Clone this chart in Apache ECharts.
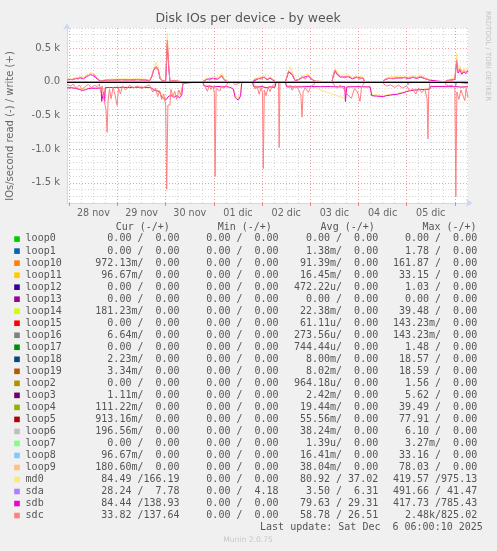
<!DOCTYPE html>
<html><head><meta charset="utf-8">
<script src="https://cdn.jsdelivr.net/npm/echarts@6/dist/echarts.min.js"></script>
<style>html,body{margin:0;padding:0;background:#f0f0f0;}#c{width:497px;height:551px;}</style>
</head><body><div id="c"></div>
<script>
// ---- axis labels ----
const dayLabels = ['28 nov','29 nov','30 nov','01 dic','02 dic','03 dic','04 dic','05 dic'];
const yTicks = [-1500, -1000, -500, 0, 500];
const yTickLabels = ['-1.5 k', '-1.0 k', '-0.5 k', '0.0', '0.5 k'];

// ---- series data: [hours since 28 nov 00:00, IO/s] (read negative, write positive) ----
const md0Write = [[-1.15,45],[1.5,40],[3,62],[5.5,78],[7,60],[8.5,100],[10.5,140],[12,120],[13,90],[14.4,45],[15.5,20],[18.6,36],[22,40],[26,44],[30,42],[34,46],[38,40],[40,25],[41,95],[43.2,290],[44.2,230],[45.2,70],[46.5,15],[48,30],[48.8,722],[49.4,350],[50.1,15],[52,25],[56,6],[57,0],[66.2,0],[67,28],[68.5,55],[71.5,72],[74,58],[75.9,130],[77,52],[78.4,14],[79.5,0],[91.2,0],[92,40],[94,64],[97,95],[98.5,44],[100,78],[102.4,8],[103,0],[107.6,0],[108.2,75],[109.9,228],[111,150],[112.4,30],[114,40],[116,88],[119,118],[120.5,60],[122.4,12],[123,0],[130.8,0],[131.5,125],[132.3,200],[133.5,145],[135,96],[139,105],[141,64],[143,92],[146.4,72],[147,6],[148,0],[156,0],[157,42],[159,72],[163,80],[167,90],[169,70],[171,95],[173,74],[175,102],[177,70],[179.2,38],[179.8,0],[187,0],[188,28],[192,52],[192.9,425],[193.6,190],[194.5,240],[195.5,160],[196.5,210],[197.5,172],[198.55,220]];
const md0Read = [[-1.15,-80],[5,-100],[10,-90],[15.9,-85],[16.5,-250],[17.9,-85],[30,-80],[41,-90],[45,-140],[48.3,-240],[50.5,-190],[55,-210],[56.6,-20],[57,0],[66.4,0],[67,-50],[72,-70],[78.4,-65],[79,0],[81.7,-100],[83.5,-240],[85.3,-190],[85.8,0],[91.2,0],[92,-65],[98,-80],[102.4,-70],[103,0],[107.6,0],[108.2,-65],[120,-65],[137.5,-250],[138.2,-70],[149.8,-70],[150.6,-190],[156.4,-200],[163,-175],[169.7,-125],[179.4,-100],[179.8,-65],[198.55,-68]];
const sdaWrite = [[-1.15,6],[20,5],[40,7],[60,5],[80,6],[100,6],[120,5],[140,7],[160,6],[180,5],[198.55,8]];
const sdaRead = [[-1.15,-2],[60,-1],[100,-3],[168,-3],[168.7,-45],[169.4,-3],[192,-2],[192.4,-60],[192.9,-3],[198.55,-28]];
const sdbWrite = [[-1.15,30],[1.5,36],[3,45],[5.5,58],[7,44],[8.5,75],[10.5,108],[12,92],[13,66],[14.4,30],[15.5,12],[18.6,24],[22,26],[26,30],[30,28],[34,30],[38,26],[40,15],[41,70],[42,170],[43.2,215],[44.2,180],[45.2,50],[46.5,10],[48,18],[48.8,560],[49.4,250],[50.1,8],[52,16],[56,3],[57,0],[66.2,0],[67,16],[68.5,36],[71.5,50],[74,40],[75.9,88],[77,34],[78.4,8],[79.5,0],[91.2,0],[92,28],[94,45],[97,66],[98.5,30],[100,54],[102.4,5],[103,0],[107.6,0],[108.2,52],[109.2,150],[110,165],[111,105],[112.4,18],[114,28],[116,64],[119,84],[120.5,42],[122.4,8],[123,0],[130.8,0],[131.5,90],[132.3,160],[133.5,105],[135,70],[139,75],[141,44],[143,66],[146.4,50],[147,4],[148,0],[156,0],[157,28],[159,50],[163,55],[167,62],[169,48],[171,66],[173,52],[175,70],[177,48],[179.2,26],[179.8,0],[187,0],[188,18],[192,36],[192.9,290],[193.6,130],[194.5,175],[195.5,112],[196.5,150],[197.5,122],[198.55,160]];
const sdbRead = [[-1.15,-90],[1,-88],[3,-96],[5,-112],[6.5,-128],[8,-118],[9.5,-100],[11,-94],[13,-96],[15.9,-92],[16.1,-290],[16.9,-292],[17.1,-150],[17.6,-295],[17.9,-86],[20,-84],[25,-82],[30,-84],[35,-80],[40,-84],[41,-95],[42,-118],[43.5,-130],[45,-150],[46,-225],[47.3,-250],[48.3,-262],[48.8,-290],[49.3,-220],[50.5,-200],[52,-230],[53.5,-210],[55,-235],[56,-200],[56.6,-20],[57,0],[66.4,0],[67,-55],[68.5,-70],[70,-62],[72,-78],[74,-68],[76,-75],[78.4,-72],[80,-80],[81.7,-110],[82.6,-230],[83.5,-262],[84.5,-258],[85.3,-205],[85.8,-30],[86.2,0],[91.2,0],[91.8,-72],[94,-78],[96,-70],[98,-88],[100,-75],[102.4,-82],[103,0],[107.6,0],[108.2,-72],[112,-76],[116,-74],[120,-70],[125,-72],[130,-70],[134,-75],[137.2,-72],[137.5,-292],[138,-292],[138.2,-76],[142,-72],[146,-74],[149.8,-76],[150.6,-205],[153,-212],[156.4,-218],[158,-205],[160,-196],[163,-186],[166,-165],[168,-145],[169.7,-132],[172,-122],[175,-116],[178,-112],[179.4,-110],[179.8,-72],[184,-70],[188,-72],[192,-70],[195,-78],[198.55,-74]];
const sdcWrite = [[-1.15,35],[0,42],[1.5,30],[3,52],[4.5,40],[5.5,65],[7,50],[8.5,85],[9.5,90],[10.5,118],[11.5,95],[12.5,110],[13.3,70],[14.4,38],[15.5,15],[17,22],[18.6,28],[20,14],[22,30],[24,18],[26,34],[28,24],[30,32],[32,20],[34,36],[36,24],[38,30],[40,18],[41,80],[42,185],[43.2,232],[44.2,195],[45.2,55],[46.5,12],[48,22],[48.8,620],[49.4,290],[50.1,10],[52,20],[54,8],[56,4],[57,0],[66.2,0],[67,20],[68.5,42],[70,25],[71.5,58],[72.5,28],[74,46],[75.9,98],[77,40],[78.4,10],[79.5,0],[91.2,0],[92,32],[94,52],[95.5,38],[97,75],[98.5,35],[100,62],[101.5,30],[102.4,6],[103,0],[107.6,0],[108.2,60],[109.2,160],[110,178],[111,118],[112.4,22],[114,32],[116,72],[117.5,40],[119,96],[120.5,48],[122.4,10],[123,0],[130.8,0],[131.5,100],[132.3,178],[133.5,118],[135,78],[137,58],[139,86],[141,50],[143,76],[144.5,40],[146.4,58],[147,5],[148,0],[156,0],[157,32],[159,56],[161,44],[163,62],[165,48],[167,70],[169,56],[171,74],[173,58],[175,80],[177,54],[179.2,30],[179.8,0],[187,0],[188,22],[190,15],[192,42],[192.9,328],[193.6,150],[194.5,198],[195.5,128],[196.5,172],[197.5,140],[198.55,182]];
const sdcRead = [[-1.15,-40],[0.5,-62],[2,-35],[3.5,-95],[5,-48],[6.5,-112],[8,-66],[9.5,-40],[11,-85],[12.5,-55],[14,-70],[15,-30],[15.6,-160],[16.4,-60],[17.3,-260],[18.3,-420],[18.8,-753],[19.3,-280],[20,-110],[20.8,-250],[21.8,-80],[22.8,-200],[23.8,-352],[24.5,-90],[25.5,-180],[26.5,-60],[28,-120],[30,-52],[32,-92],[34,-58],[36,-104],[38,-66],[40,-45],[41.5,-150],[43,-92],[44,-220],[45,-130],[46,-262],[47,-180],[48,-350],[48.5,-1594],[49.1,-345],[50.1,-345],[50.6,-110],[51.5,-220],[52.5,-140],[53.5,-260],[54.5,-120],[55.5,-200],[56.5,-40],[57,0],[66.4,0],[67,-25],[67.8,-85],[68.8,-140],[69.6,-55],[70.5,-115],[71.5,-60],[72.2,-160],[72.6,-1407],[73.1,-100],[74,-72],[75,-135],[76,-58],[77,-95],[78.4,-40],[79,0],[81.5,0],[82.2,-40],[84,-30],[85.8,0],[91.2,0],[91.8,-30],[92.5,-105],[93.5,-60],[94.5,-185],[95.5,-90],[96.2,-155],[96.6,-1288],[97.1,-120],[98,-205],[99,-80],[100,-145],[101,-62],[102.4,-30],[103,0],[104.2,0],[104.5,-976],[104.9,0],[107.6,0],[108.2,-40],[109,-85],[110,-50],[111,-125],[112.4,-58],[114,-105],[115.3,-200],[115.9,-524],[116.4,-150],[117.5,-88],[119,-155],[120.5,-60],[122,-38],[122.4,0],[131,0],[131.5,-30],[133,-92],[135,-50],[137,-125],[138.8,-200],[140.5,-245],[142,-100],[143.5,-150],[144.8,-290],[145.5,-80],[146.4,-40],[147,0],[156.2,0],[156.6,-30],[158,-62],[160,-45],[162,-82],[164,-50],[166,-92],[168,-60],[169.7,-140],[171,-100],[172.5,-182],[174,-90],[175.5,-160],[177,-110],[178.2,-250],[178.6,-847],[179,-150],[179.6,0],[187,0],[187.5,-40],[189,-62],[190.5,-48],[192,-92],[192.5,-1704],[193,-150],[194,-262],[195,-120],[196,-205],[197,-280],[197.6,-100],[198.55,-230]];

// ---- legend table ----
const devices = ['loop0','loop1','loop10','loop11','loop12','loop13','loop14','loop15','loop16','loop17','loop18','loop19','loop2','loop3','loop4','loop5','loop6','loop7','loop8','loop9','md0','sda','sdb','sdc'];
const palette = ['#00CC00','#0066B3','#FF8000','#FFCC00','#330099','#990099','#CCFF00','#FF0000','#808080','#008F00','#00487D','#B35A00','#B38F00','#6B006B','#8FB300','#B30000','#BEBEBE','#80FF80','#80C9FF','#FFC080','#FFE680','#AA80FF','#EE00CC','#FF8080'];
const curVals = ['0.00 /  0.00','0.00 /  0.00','972.13m/  0.00','96.67m/  0.00','0.00 /  0.00','0.00 /  0.00','181.23m/  0.00','0.00 /  0.00','6.64m/  0.00','0.00 /  0.00','2.23m/  0.00','3.34m/  0.00','0.00 /  0.00','1.11m/  0.00','111.22m/  0.00','913.16m/  0.00','196.56m/  0.00','0.00 /  0.00','96.67m/  0.00','180.60m/  0.00','84.49 /166.19','28.24 /  7.78','84.44 /138.93','33.82 /137.64'];
const minVals = ['0.00 /  0.00','0.00 /  0.00','0.00 /  0.00','0.00 /  0.00','0.00 /  0.00','0.00 /  0.00','0.00 /  0.00','0.00 /  0.00','0.00 /  0.00','0.00 /  0.00','0.00 /  0.00','0.00 /  0.00','0.00 /  0.00','0.00 /  0.00','0.00 /  0.00','0.00 /  0.00','0.00 /  0.00','0.00 /  0.00','0.00 /  0.00','0.00 /  0.00','0.00 /  0.00','0.00 /  4.18','0.00 /  0.00','0.00 /  0.00'];
const avgVals = ['0.00 /  0.00','1.38m/  0.00','91.39m/  0.00','16.45m/  0.00','472.22u/  0.00','0.00 /  0.00','22.38m/  0.00','61.11u/  0.00','273.56u/  0.00','744.44u/  0.00','8.00m/  0.00','8.02m/  0.00','964.18u/  0.00','2.42m/  0.00','19.44m/  0.00','55.56m/  0.00','38.24m/  0.00','1.39u/  0.00','16.41m/  0.00','38.04m/  0.00','80.92 / 37.02','3.50 /  6.31','79.63 / 29.31','58.78 / 26.51'];
const maxVals = ['0.00 /  0.00','1.78 /  0.00','161.87 /  0.00','33.15 /  0.00','1.03 /  0.00','0.00 /  0.00','39.48 /  0.00','143.23m/  0.00','143.23m/  0.00','1.48 /  0.00','18.57 /  0.00','18.59 /  0.00','1.56 /  0.00','5.62 /  0.00','39.49 /  0.00','77.91 /  0.00','6.10 /  0.00','3.27m/  0.00','33.16 /  0.00','78.03 /  0.00','419.57 /975.13','491.66 / 41.47','417.73 /785.43','2.48k/825.02'];
const colHeaders = ['Cur (-/+)','Min (-/+)','Avg (-/+)','Max (-/+)'];
const titleText = 'Disk IOs per device - by week';
const yName = 'IOs/second read (-) / write (+)';
const sideText = 'RRDTOOL / TOBI OETIKER';
const lastUpdate = 'Last update: Sat Dec  6 06:00:10 2025';
const footer = 'Munin 2.0.75';

// ---- build chart ----
const X0 = -1.15, X1 = 198.55;
const minorX = []; for (let h = 0; h <= 198; h += 6) minorX.push(h);
const dayX = []; for (let h = 0; h <= 192; h += 24) dayX.push(h);
const labelX = dayLabels.map((d, i) => 12 + 24 * i);
const AXIS = '#cfd6f8', MINOR = '#d6d6d6', MAJOR = '#eaa0a0', FONT = '#666666';

function line(name, data, color) {
  return { type: 'line', name, data, symbol: 'none', showSymbol: false, silent: true,
    lineStyle: { color, width: 1 }, itemStyle: { color }, animation: false };
}
const series = [
  line('md0-', md0Read, palette[20]), line('md0+', md0Write, palette[20]),
  line('sda-', sdaRead, palette[21]), line('sda+', sdaWrite, palette[21]),
  line('sdb-', sdbRead, palette[22]), line('sdb+', sdbWrite, palette[22]),
  line('sdc-', sdcRead, palette[23]), line('sdc+', sdcWrite, palette[23])
];
series[series.length - 1].markLine = { silent: true, symbol: 'none', animation: false, label: { show: false },
  lineStyle: { color: '#000', width: 1.2, type: 'solid' }, data: [{ yAxis: 0 }] };

const MONO = '10px "DejaVu Sans Mono"';
const g = [];
function txt(text, x, y, align, font, fill, rot) {
  g.push({ type: 'text', x, y, rotation: rot || 0, silent: true,
    style: { text, font, fill: fill || '#555', align, verticalAlign: 'middle', textAlign: align, textVerticalAlign: 'middle' } });
}
txt(titleText, 248, 19, 'center', '12.5px "DejaVu Sans"', '#555');
txt(yName, 10, 126, 'center', '10px "DejaVu Sans"', FONT, Math.PI / 2);
txt(sideText, 487.5, 56, 'center', '7px "DejaVu Sans"', '#c4c4c4', -Math.PI / 2);
const headX = [115.7, 217.7, 320.6, 422.4];
colHeaders.forEach((h, i) => txt(h, headX[i], 227.7, 'left', MONO, '#555'));
const colRight = [179.6, 278.6, 378.2, 477.2];
const cols = [curVals, minVals, avgVals, maxVals];
devices.forEach((d, i) => {
  const y = 238.9 + i * 12.02;
  g.push({ type: 'rect', silent: true, shape: { x: 14.2, y: y - 2.6, width: 5.6, height: 5.6 }, style: { fill: palette[i] } });
  txt(d, 25.6, y, 'left', MONO, '#555');
  cols.forEach((c, k) => txt(c[i], colRight[k], y, 'right', MONO, '#555'));
});
txt(lastUpdate, 482.8, 527.3, 'right', MONO, '#555');
txt(footer, 248, 540, 'center', '7.6px "DejaVu Sans"', '#c8c8c8');

const option = {
  backgroundColor: '#f0f0f0',
  animation: false,
  grid: { left: 67, top: 28, width: 401, height: 175, show: true, backgroundColor: '#ffffff', borderWidth: 0 },
  xAxis: [
    { type: 'value', min: X0, max: X1,
      axisLine: { show: true, onZero: false, lineStyle: { color: AXIS, width: 1 }, symbol: ['none', 'arrow'], symbolSize: [6, 7], symbolOffset: [0, 5] },
      axisTick: { show: false, customValues: minorX }, axisLabel: { show: false },
      splitLine: { show: true, lineStyle: { color: MINOR, width: 1, type: [1, 2] } } },
    { type: 'value', min: X0, max: X1, position: 'bottom',
      axisLine: { show: false, onZero: false },
      axisTick: { show: true, customValues: dayX, length: 3, lineStyle: { color: '#f08080' } },
      axisLabel: { show: true, customValues: labelX, formatter: v => dayLabels[Math.round((v - 12) / 24)],
        color: FONT, fontSize: 9.6, fontFamily: 'DejaVu Sans', margin: 5 },
      splitLine: { show: true, lineStyle: { color: MAJOR, width: 1, type: [1, 2] } } }
  ],
  yAxis: [
    { type: 'value', min: -1800, max: 800, interval: 100,
      axisLine: { show: true, onZero: false, lineStyle: { color: AXIS, width: 1 }, symbol: ['none', 'arrow'], symbolSize: [6, 7], symbolOffset: [0, 5] },
      axisTick: { show: false }, axisLabel: { show: false },
      splitLine: { show: true, lineStyle: { color: MINOR, width: 1, type: [1, 2] } } },
    { type: 'value', min: -1800, max: 800, position: 'left', offset: 0,
      axisLine: { show: false, onZero: false },
      axisTick: { show: false, customValues: yTicks },
      axisLabel: { show: true, customValues: yTicks, formatter: v => yTickLabels[yTicks.indexOf(v)],
        color: FONT, fontSize: 10, fontFamily: 'DejaVu Sans', margin: 7 },
      splitLine: { show: true, lineStyle: { color: MAJOR, width: 1, type: [1, 2] } } }
  ],
  series: series,
  graphic: { elements: g }
};
const chart = echarts.init(document.getElementById('c'), null, { renderer: 'canvas' });
chart.setOption(option);
</script></body></html>
